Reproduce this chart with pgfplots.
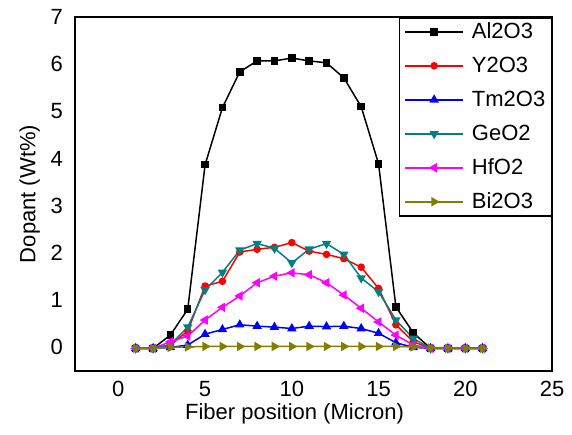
\documentclass[border=0pt]{standalone}
\usepackage{pgfplots}
\pgfplotsset{compat=1.18}
\usepackage{fontspec}
\setmainfont{Liberation Sans}
\definecolor{tealc}{RGB}{0,128,128}
\definecolor{olivec}{RGB}{128,128,0}
\definecolor{magc}{RGB}{255,0,255}
\begin{document}
\begin{tikzpicture}
\begin{axis}[
  scale only axis,
  width=477pt, height=354pt,
  xmin=-2.5, xmax=25, ymin=-0.5, ymax=7,
  xtick={0,5,...,25}, ytick={0,1,...,7},
  major tick length=0pt,
  axis line style={line width=1.5pt},
  /pgf/number format/assume math mode=true,
  tick label style={font=\fontsize{22}{26}\selectfont},
  xticklabel style={inner sep=0pt, yshift=-10pt},
  yticklabel style={inner sep=0pt, xshift=-12pt},
  xlabel={Fiber position (Micron)},
  ylabel={Dopant (Wt\%)},
  label style={font=\fontsize{22}{26}\selectfont},
  xlabel style={xshift=-19pt, yshift=-3pt},
  ylabel style={yshift=7pt},
  legend cell align=left,
  legend style={at={(1,1)}, anchor=north east, draw=black, line width=1.5pt,
    font=\fontsize{22}{26}\selectfont, inner xsep=5pt, inner ysep=4pt,
    row sep=14pt,
    nodes={text height=16pt, text depth=2pt, inner sep=1pt},
    /tikz/every odd column/.append style={column sep=7pt},
    /tikz/every even column/.append style={column sep=20pt}},
  legend image code/.code={\draw[mark repeat=2,mark phase=2] plot coordinates {(0pt,0pt)(29pt,0pt)(58pt,0pt)};},
  every axis plot/.append style={line width=1.5pt},
  every mark/.append style={line width=0.5pt},
]
\coordinate (ll) at (rel axis cs:0,0);
\addplot[black, mark=square*, mark size=3pt] coordinates {
(1,-0.02)(2,-0.02)(3,0.26)(4,0.81)(5,3.87)(6,5.08)(7,5.84)(8,6.07)(9,6.07)(10,6.13)(11,6.07)(12,6.03)(13,5.71)(14,5.10)(15,3.89)(16,0.86)(17,0.31)(18,-0.02)(19,-0.02)(20,-0.02)(21,-0.02)};
\addlegendentry{Al2O3}
\addplot[red, mark=*, mark size=3pt] coordinates {
(1,-0.02)(2,-0.02)(3,0.05)(4,0.35)(5,1.30)(6,1.40)(7,2.02)(8,2.08)(9,2.12)(10,2.22)(11,2.04)(12,1.97)(13,1.88)(14,1.70)(15,1.25)(16,0.48)(17,0.12)(18,-0.02)(19,-0.02)(20,-0.02)(21,-0.02)};
\addlegendentry{Y2O3}
\addplot[blue, mark=triangle*, mark size=4pt] coordinates {
(1,-0.02)(2,-0.02)(3,0.0)(4,0.05)(5,0.28)(6,0.38)(7,0.48)(8,0.45)(9,0.43)(10,0.40)(11,0.45)(12,0.44)(13,0.45)(14,0.40)(15,0.30)(16,0.10)(17,0.0)(18,-0.02)(19,-0.02)(20,-0.02)(21,-0.02)};
\addlegendentry{Tm2O3}
\addplot[tealc, mark=triangle*, mark options={rotate=180}, mark size=4pt] coordinates {
(1,-0.02)(2,-0.02)(3,0.06)(4,0.43)(5,1.22)(6,1.59)(7,2.06)(8,2.20)(9,2.10)(10,1.79)(11,2.08)(12,2.20)(13,1.97)(14,1.47)(15,1.18)(16,0.58)(17,0.19)(18,-0.02)(19,-0.02)(20,-0.02)(21,-0.02)};
\addlegendentry{GeO2}
\addplot[magc, mark=triangle*, mark options={rotate=90}, mark size=4pt] coordinates {
(1,-0.02)(2,-0.02)(3,0.12)(4,0.24)(5,0.58)(6,0.85)(7,1.09)(8,1.37)(9,1.51)(10,1.58)(11,1.54)(12,1.37)(13,1.11)(14,0.83)(15,0.54)(16,0.26)(17,0.05)(18,-0.02)(19,-0.02)(20,-0.02)(21,-0.02)};
\addlegendentry{HfO2}
\addplot[olivec, mark=triangle*, mark options={rotate=-90}, mark size=4pt] coordinates {
(1,-0.02)(2,-0.02)(3,0.0)(4,0.01)(5,0.02)(6,0.02)(7,0.02)(8,0.02)(9,0.02)(10,0.02)(11,0.02)(12,0.02)(13,0.02)(14,0.02)(15,0.02)(16,0.02)(17,0.01)(18,-0.01)(19,-0.02)(20,-0.02)(21,-0.02)};
\addlegendentry{Bi2O3}
\end{axis}
\path (ll) ++(-75pt,-63pt) rectangle ++(572pt,434pt);
\end{tikzpicture}
\end{document}
